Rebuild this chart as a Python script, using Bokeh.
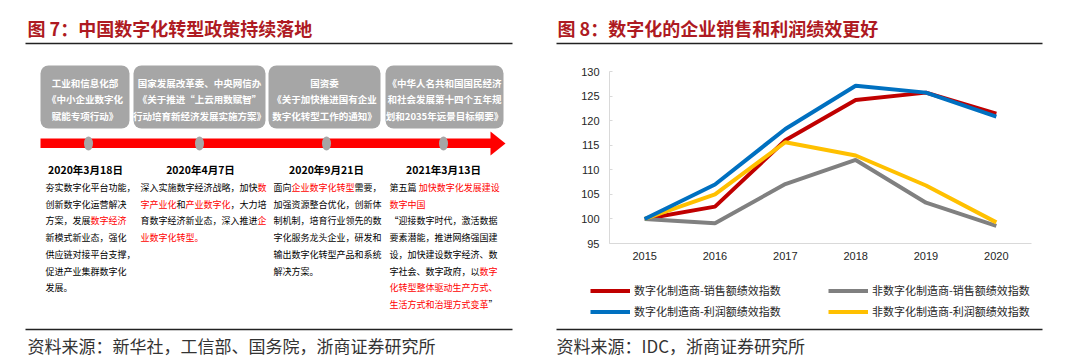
from bokeh.plotting import figure
from bokeh.models import Range1d, Legend, LegendItem, FactorRange, FixedTicker
from bokeh.layouts import row, column
from bokeh.embed import file_html
from bokeh.resources import INLINE
from bokeh.core.properties import value

# ---------------- data (right chart) ----------------
years = ["2015", "2016", "2017", "2018", "2019", "2020"]
digital_sales = [100, 102.5, 116.0, 124.2, 125.7, 121.4]
digital_profit = [100, 107.0, 118.3, 127.1, 125.7, 120.8]
nondigital_sales = [100, 99.1, 107.1, 112.0, 103.3, 98.6]
nondigital_profit = [100, 105.0, 115.6, 112.9, 106.8, 99.3]
series_names = ["数字化制造商-销售额绩效指数", "非数字化制造商-销售额绩效指数",
                "数字化制造商-利润额绩效指数", "非数字化制造商-利润额绩效指数"]
series_colors = ["#C00000", "#808080", "#0070C0", "#FFC000"]
y_ticks = [95, 100, 105, 110, 115, 120, 125, 130]

# ---------------- texts (left infographic) ----------------
title_left = "图 7：中国数字化转型政策持续落地"
title_right = "图 8：数字化的企业销售和利润绩效更好"
source_left = "资料来源：新华社，工信部、国务院，浙商证券研究所"
source_right = "资料来源：IDC，浙商证券研究所"
dates = ["2020年3月18日", "2020年4月7日", "2020年9月21日", "2021年3月13日"]
box_texts = [
    ["工业和信息化部", "《中小企业数字化", "赋能专项行动》"],
    ["国家发展改革委、中央网信办", "《关于推进“上云用数赋智”", "行动培育新经济发展实施方案》"],
    ["国资委", "《关于加快推进国有企业", "数字化转型工作的通知》"],
    ["《中华人名共和国国民经济", "和社会发展第十四个五年规", "划和2035年远景目标纲要》"],
]
# each line: list of (text, is_red)
body_texts = [
    [[("夯实数字化平台功能，", 0)],
     [("创新数字化运营解决", 0)],
     [("方案，发展", 0), ("数字经济", 1)],
     [("新模式新业态，强化", 0)],
     [("供应链对接平台支撑，", 0)],
     [("促进产业集群数字化", 0)],
     [("发展。", 0)]],
    [[("深入实施数字经济战略，加快", 0), ("数", 1)],
     [("字产业化", 1), ("和", 0), ("产业数字化", 1), ("，大力培", 0)],
     [("育数字经济新业态，深入推进", 0), ("企", 1)],
     [("业数字化转型。", 1)]],
    [[("面向", 0), ("企业数字化转型", 1), ("需要，", 0)],
     [("加强资源整合优化，创新体", 0)],
     [("制机制，培育行业领先的数", 0)],
     [("字化服务龙头企业，研发和", 0)],
     [("输出数字化转型产品和系统", 0)],
     [("解决方案。", 0)]],
    [[("第五篇 ", 0), ("加快数字化发展建设", 1)],
     [("数字中国", 1)],
     [("“迎接数字时代，激活数据", 0)],
     [("要素潜能，推进网络强国建", 0)],
     [("设，加快建设数字经济、数", 0)],
     [("字社会、数字政府，以", 0), ("数字", 1)],
     [("化转型整体驱动生产方式、", 1)],
     [("生活方式和治理方式变革", 1), ("”", 0)]],
]

CJK = "Noto Sans CJK SC"
TITLE_RED = "#AE1A22"
RULE = "#222222"


def canvas(x0, x1, y0, y1):
    p = figure(width=x1 - x0, height=y1 - y0,
               x_range=Range1d(x0, x1), y_range=Range1d(y1, y0),
               x_axis_location=None, y_axis_location=None,
               output_backend="svg", toolbar_location=None, min_border=0,
               frame_align=False)
    p.grid.visible = False
    p.outline_line_color = None
    p.background_fill_color = "white"
    return p


def text_width(s, size):
    w = 0.0
    for ch in s:
        if ch == " ":
            w += 0.25 * size
        elif ord(ch) < 128:
            w += 0.55 * size
        else:
            w += 1.0 * size
    return w


# ---------------- left panel ----------------
L = canvas(0, 540, 0, 360)
L.text(x=[27], y=[27], text=[title_left], text_font=value(CJK), text_font_size="18px",
       text_font_style="bold", text_color=TITLE_RED, text_baseline="middle")
L.line(x=[25, 512], y=[43, 43], line_color=RULE, line_width=1.3)

box_x = [(40, 129), (133, 265), (268, 380), (385, 503)]
L.quad(left=[b[0] for b in box_x], right=[b[1] for b in box_x],
       top=[65] * 4, bottom=[128] * 4, fill_color="#A6A6A6", line_color=None,
       border_radius=8)
line_y = [82, 98.5, 115]
for (bx0, bx1), lines in zip(box_x, box_texts):
    cx = (bx0 + bx1) / 2
    L.text(x=[cx] * len(lines), y=line_y[:len(lines)], text=lines, text_font=value(CJK),
           text_font_size="9.5px", text_font_style="bold", text_color="white",
           text_align="center", text_baseline="middle")

# arrow
L.quad(left=[40], right=[492], top=[138], bottom=[147.5], fill_color="#FF0000", line_color=None)
L.patch(x=[490, 505, 490], y=[131, 143, 155], fill_color="#FF0000", line_color=None)
circ_x = [88, 199, 326, 443]
L.ellipse(x=circ_x, y=[143] * 4, width=9, height=14, fill_color="#A6A6A6", line_color=None)

L.text(x=[85, 200, 326, 443], y=[169] * 4, text=dates, text_font=value(CJK),
       text_font_size="10.5px", text_font_style="bold", text_color="#000000",
       text_align="center", text_baseline="middle")

col_x = [45, 140, 273, 389]
body_size = 9
for cx, lines in zip(col_x, body_texts):
    for i, segs in enumerate(lines):
        y = 187 + i * 16.7
        off = 0.0
        for s, red in segs:
            L.text(x=[cx + off], y=[y], text=[s], text_font=value(CJK),
                   text_font_size=f"{body_size}px",
                   text_color="#FF0000" if red else "#000000",
                   text_baseline="middle", text_align="left")
            off += text_width(s, body_size)

L.line(x=[25, 512], y=[329, 329], line_color=RULE, line_width=1.3)
L.text(x=[27], y=[344.5], text=[source_left], text_font=value(CJK), text_font_size="17px",
       text_color="#333333", text_baseline="middle")

# ---------------- right panel ----------------
RT = canvas(540, 1080, 0, 55)
RT.text(x=[557], y=[27], text=[title_right], text_font=value(CJK), text_font_size="18px",
        text_font_style="bold", text_color=TITLE_RED, text_baseline="middle")
RT.line(x=[556, 1042], y=[43, 43], line_color=RULE, line_width=1.3)

C = figure(width=540, height=215, x_range=FactorRange(*years, range_padding=0),
           y_range=Range1d(95, 130), output_backend="svg", toolbar_location=None,
           min_border_left=69, min_border_right=49, min_border_top=16, min_border_bottom=27,
           frame_align=False)
C.grid.visible = False
C.outline_line_color = None
C.line(years, digital_sales, line_color=series_colors[0], line_width=4)
C.line(years, nondigital_sales, line_color=series_colors[1], line_width=4)
C.line(years, nondigital_profit, line_color=series_colors[3], line_width=4)
C.line(years, digital_profit, line_color=series_colors[2], line_width=4)

C.yaxis.ticker = FixedTicker(ticks=y_ticks)
C.yaxis.minor_tick_line_color = None
C.yaxis.major_tick_in = 3
C.yaxis.major_tick_out = 0
C.yaxis.major_label_standoff = 10
C.xaxis.major_tick_in = 0
C.xaxis.major_tick_out = 0
C.xaxis.major_label_standoff = 8
for ax in (C.xaxis, C.yaxis):
    ax.axis_line_color = "#D9D9D9"
    ax.major_label_text_font = "Liberation Sans"
    ax.major_label_text_font_size = "11px"
    ax.major_label_text_color = "#262626"
C.xaxis.major_tick_line_color = None
C.yaxis.major_tick_line_color = "#D9D9D9"

# legend lives in the strip below the chart; its sample lines carry no visible data
RB = canvas(540, 1080, 270, 360)
nan = float("nan")
legend_renderers = [RB.line(x=[nan], y=[nan], line_color=c, line_width=4) for c in series_colors]
legend = Legend(items=[LegendItem(label=n, renderers=[r]) for n, r in zip(series_names, legend_renderers)],
                location=(50, 40.5), orientation="horizontal", ncols=2,
                glyph_width=40, glyph_height=17, label_height=17, label_width=190,
                label_standoff=4, spacing=4, padding=0, margin=0,
                border_line_color=None, background_fill_alpha=0,
                label_text_font=CJK, label_text_font_size="11px", label_text_color="#262626")
RB.add_layout(legend)
RB.line(x=[556, 1042], y=[329, 329], line_color=RULE, line_width=1.3)
RB.text(x=[556], y=[344.5], text=[source_right], text_font=value(CJK), text_font_size="17px",
        text_color="#333333", text_baseline="middle")

layout = row(L, column(RT, C, RB, spacing=0), spacing=0)
open("out.html", "w").write(file_html(layout, INLINE))
